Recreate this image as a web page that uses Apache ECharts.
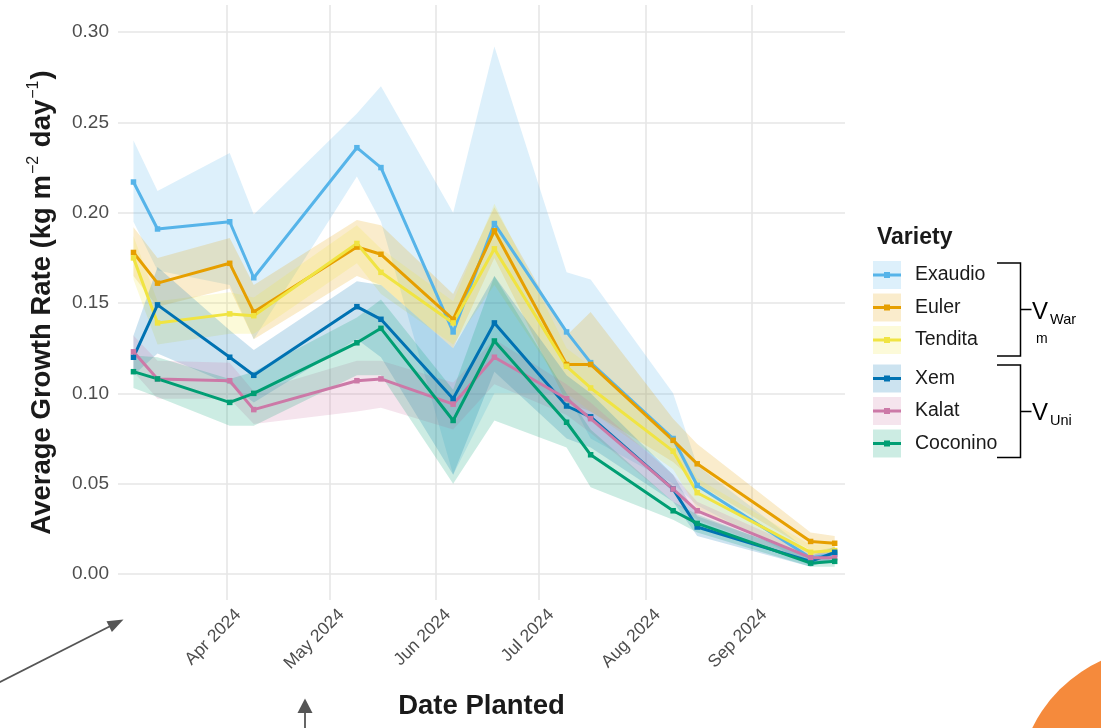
<!DOCTYPE html>
<html>
<head>
<meta charset="utf-8">
<script src="https://cdn.jsdelivr.net/npm/echarts@6/dist/echarts.min.js"></script>
<style>
  html, body { margin: 0; padding: 0; background: #ffffff; }
  #chart { width: 1101px; height: 728px; }
</style>
</head>
<body>
<div id="chart"></div>
<script>
// Planting dates (one sampling date per point)
const plantDates = ['2024-03-05', '2024-03-12', '2024-04-02', '2024-04-09', '2024-05-09', '2024-05-16',
  '2024-06-06', '2024-06-18', '2024-07-09', '2024-07-16', '2024-08-09', '2024-08-16', '2024-09-18', '2024-09-25'];

const varieties = ['Exaudio', 'Euler', 'Tendita', 'Xem', 'Kalat', 'Coconino'];
const varietyColors = ['#56B4E9', '#E69F00', '#F0E442', '#0072B2', '#CC79A7', '#009E73'];

// Mean growth rate (kg m-2 day-1) and its interval bounds
const exaudioMean = [0.217, 0.191, 0.195, 0.164, 0.236, 0.225, 0.134, 0.194, 0.134, 0.117, 0.075, 0.049, 0.009, 0.011];
const exaudioLow  = [0.195, 0.168, 0.160, 0.130, 0.220, 0.195, 0.055, 0.100, 0.100, 0.075, 0.050, 0.038, 0.005, 0.007];
const exaudioHigh = [0.240, 0.212, 0.233, 0.199, 0.255, 0.270, 0.200, 0.292, 0.167, 0.163, 0.100, 0.060, 0.012, 0.015];

const eulerMean = [0.178, 0.161, 0.172, 0.145, 0.181, 0.177, 0.141, 0.190, 0.116, 0.116, 0.074, 0.061, 0.018, 0.017];
const eulerLow  = [0.165, 0.148, 0.158, 0.130, 0.165, 0.160, 0.125, 0.175, 0.095, 0.090, 0.062, 0.050, 0.013, 0.012];
const eulerHigh = [0.192, 0.175, 0.186, 0.160, 0.196, 0.193, 0.155, 0.203, 0.132, 0.145, 0.086, 0.072, 0.023, 0.021];

const tenditaMean = [0.175, 0.139, 0.144, 0.143, 0.183, 0.167, 0.139, 0.180, 0.115, 0.103, 0.068, 0.045, 0.012, 0.013];
const tenditaLow  = [0.163, 0.127, 0.133, 0.133, 0.172, 0.155, 0.127, 0.160, 0.100, 0.090, 0.058, 0.036, 0.008, 0.009];
const tenditaHigh = [0.187, 0.151, 0.156, 0.153, 0.193, 0.180, 0.151, 0.205, 0.125, 0.115, 0.076, 0.053, 0.016, 0.017];

const xemMean = [0.120, 0.149, 0.120, 0.110, 0.148, 0.141, 0.097, 0.139, 0.093, 0.087, 0.047, 0.026, 0.007, 0.012];
const xemLow  = [0.110, 0.122, 0.105, 0.095, 0.130, 0.120, 0.055, 0.112, 0.075, 0.070, 0.040, 0.021, 0.004, 0.009];
const xemHigh = [0.132, 0.170, 0.135, 0.124, 0.162, 0.160, 0.125, 0.165, 0.110, 0.100, 0.055, 0.032, 0.010, 0.015];

const kalatMean = [0.123, 0.108, 0.107, 0.091, 0.107, 0.108, 0.094, 0.120, 0.097, 0.086, 0.047, 0.035, 0.009, 0.009];
const kalatLow  = [0.112, 0.097, 0.097, 0.083, 0.090, 0.092, 0.080, 0.105, 0.088, 0.078, 0.040, 0.030, 0.006, 0.006];
const kalatHigh = [0.132, 0.118, 0.117, 0.101, 0.118, 0.118, 0.106, 0.130, 0.105, 0.095, 0.055, 0.040, 0.012, 0.012];

const coconinoMean = [0.112, 0.108, 0.095, 0.100, 0.128, 0.136, 0.085, 0.129, 0.084, 0.066, 0.035, 0.028, 0.006, 0.007];
const coconinoLow  = [0.103, 0.098, 0.082, 0.082, 0.110, 0.110, 0.050, 0.085, 0.070, 0.048, 0.030, 0.023, 0.004, 0.004];
const coconinoHigh = [0.121, 0.120, 0.108, 0.112, 0.142, 0.152, 0.102, 0.165, 0.100, 0.080, 0.040, 0.033, 0.009, 0.010];

// Axis ticks
const monthTickDates = ['2024-04-01', '2024-05-01', '2024-06-01', '2024-07-01', '2024-08-01', '2024-09-01'];
const monthTickLabels = ['Apr 2024', 'May 2024', 'Jun 2024', 'Jul 2024', 'Aug 2024', 'Sep 2024'];
const rateTicks = [0, 0.05, 0.10, 0.15, 0.20, 0.25, 0.30];

const warmGroup = ['Exaudio', 'Euler', 'Tendita'];
const uniGroup = ['Xem', 'Kalat', 'Coconino'];

const means = [exaudioMean, eulerMean, tenditaMean, xemMean, kalatMean, coconinoMean];
const lows = [exaudioLow, eulerLow, tenditaLow, xemLow, kalatLow, coconinoLow];
const highs = [exaudioHigh, eulerHigh, tenditaHigh, xemHigh, kalatHigh, coconinoHigh];

const FONT = '"Liberation Sans", Arial, Helvetica, sans-serif';

function ts(s) {
  const p = s.split('-').map(Number);
  return Date.UTC(p[0], p[1] - 1, p[2]);
}
function rgba(hex, a) {
  const n = parseInt(hex.slice(1), 16);
  return 'rgba(' + (n >> 16) + ',' + ((n >> 8) & 255) + ',' + (n & 255) + ',' + a + ')';
}

const dateTimes = plantDates.map(ts);
const monthTicks = monthTickDates.map(ts);

// Shaded interval band: one polygon through the upper bounds and back along the lower bounds
function bandSeries(idx) {
  const low = lows[idx], high = highs[idx];
  return {
    type: 'custom',
    name: varieties[idx],
    silent: true,
    z: 1,
    animation: false,
    data: dateTimes.map((t, i) => [t, low[i], high[i]]),
    encode: { x: 0, y: [1, 2] },
    renderItem: function (params, api) {
      if (params.dataIndex !== 0) return null;
      const upper = dateTimes.map((t, i) => api.coord([t, high[i]]));
      const lower = dateTimes.map((t, i) => api.coord([t, low[i]])).reverse();
      return {
        type: 'polygon',
        shape: { points: upper.concat(lower) },
        style: { fill: rgba(varietyColors[idx], 0.2) },
        silent: true
      };
    }
  };
}

function lineSeries(idx) {
  const c = varietyColors[idx];
  return {
    type: 'line',
    name: varieties[idx],
    z: 3,
    animation: false,
    data: dateTimes.map((t, i) => [t, means[idx][i]]),
    symbol: 'rect',
    symbolSize: 5.5,
    showAllSymbol: true,
    lineStyle: { color: c, width: 3 },
    itemStyle: { color: c },
    emphasis: { disabled: true }
  };
}

const series = [];
varieties.forEach((v, i) => series.push(bandSeries(i)));
varieties.forEach((v, i) => series.push(lineSeries(i)));

// Legend: a pale square per variety with a line + point key drawn over it
const keyPath = 'path://M0,1.5H28V4.5H0Z M11,0H17V6H11Z';
function boxLegend(names, top) {
  return {
    orient: 'vertical', left: 873, top: top, padding: 0,
    itemWidth: 28, itemHeight: 28, itemGap: 4.5,
    selectedMode: false,
    textStyle: { fontFamily: FONT, fontSize: 19.5, color: '#1a1a1a', padding: [0, 0, 0, 9] },
    data: names.map(n => ({
      name: n, icon: 'rect',
      itemStyle: { color: rgba(varietyColors[varieties.indexOf(n)], 0.2), borderWidth: 0 }
    }))
  };
}
function keyLegend(names, top) {
  return {
    orient: 'vertical', left: 873, top: top + 11, padding: 0,
    itemWidth: 28, itemHeight: 6, itemGap: 26.5,
    selectedMode: false,
    formatter: () => '',
    textStyle: { fontSize: 1 },
    data: names.map(n => ({
      name: n, icon: keyPath,
      itemStyle: { color: varietyColors[varieties.indexOf(n)], borderWidth: 0 }
    }))
  };
}

const bracketStyle = { stroke: '#000000', lineWidth: 1.5, fill: null };
const arrowColor = '#555555';

const option = {
  backgroundColor: '#ffffff',
  animation: false,
  title: {
    text: 'Variety', left: 877, top: 226, padding: 0,
    textStyle: { fontFamily: FONT, fontSize: 23, fontWeight: 'bold', color: '#1a1a1a' }
  },
  legend: [
    boxLegend(warmGroup, 261),
    boxLegend(uniGroup, 364.5),
    keyLegend(warmGroup, 261),
    keyLegend(uniGroup, 364.5)
  ],
  grid: { left: 118, right: 256, top: 5, bottom: 128, containLabel: false, outerBoundsMode: 'none' },
  xAxis: {
    type: 'value',
    min: ts('2024-02-29') + 12 * 3600 * 1000,
    max: ts('2024-09-28'),
    axisLine: { show: false },
    axisTick: { show: false, customValues: monthTicks },
    axisLabel: {
      customValues: monthTicks,
      rotate: 45,
      hideOverlap: false,
      fontFamily: FONT, fontSize: 17.5, color: '#4d4d4d',
      verticalAlign: 'top', lineHeight: 34, margin: 0,
      formatter: function (v) {
        const i = monthTicks.indexOf(v);
        return i >= 0 ? monthTickLabels[i] : '';
      }
    },
    splitLine: { show: true, lineStyle: { color: '#e6e6e6', width: 1.6 } },
    name: 'Date Planted',
    nameLocation: 'middle',
    nameGap: 92,
    nameTextStyle: { fontFamily: FONT, fontSize: 27.5, fontWeight: 'bold', color: '#1a1a1a' }
  },
  yAxis: {
    type: 'value',
    min: -0.0144,
    max: 0.315,
    axisLine: { show: false },
    axisTick: { show: false, customValues: rateTicks },
    axisLabel: {
      customValues: rateTicks,
      fontFamily: FONT, fontSize: 19, color: '#4d4d4d', margin: 9,
      formatter: v => v.toFixed(2)
    },
    splitLine: { show: true, lineStyle: { color: '#e6e6e6', width: 1.6 } },
    name: 'Average Growth Rate (kg m{sup|\u22122} day{sup|\u22121})',
    nameLocation: 'middle',
    nameRotate: 90,
    nameGap: 60,
    nameTextStyle: {
      fontFamily: FONT, fontSize: 27.5, fontWeight: 'bold', color: '#1a1a1a', lineHeight: 32,
      rich: {
        sup: { fontFamily: FONT, fontSize: 16, fontWeight: 'normal', color: '#1a1a1a', verticalAlign: 'top', lineHeight: 32, padding: [0, 1, 12, 1] }
      }
    }
  },
  series: series,
  graphic: [
    // Group brackets beside the legend
    { type: 'polyline', shape: { points: [[997, 263], [1020.5, 263], [1020.5, 356], [997, 356]] }, style: bracketStyle, silent: true },
    { type: 'line', shape: { x1: 1020.5, y1: 309.5, x2: 1031.5, y2: 309.5 }, style: bracketStyle, silent: true },
    { type: 'polyline', shape: { points: [[997, 365], [1020.5, 365], [1020.5, 457.5], [997, 457.5]] }, style: bracketStyle, silent: true },
    { type: 'line', shape: { x1: 1020.5, y1: 411.5, x2: 1031.5, y2: 411.5 }, style: bracketStyle, silent: true },
    { type: 'text', x: 1032, y: 312, style: { text: 'V', font: '24px ' + FONT, fill: '#000', verticalAlign: 'middle' }, silent: true },
    { type: 'text', x: 1050, y: 320, style: { text: 'War', font: '14.5px ' + FONT, fill: '#000', verticalAlign: 'middle' }, silent: true },
    { type: 'text', x: 1036, y: 339, style: { text: 'm', font: '14px ' + FONT, fill: '#000', verticalAlign: 'middle' }, silent: true },
    { type: 'text', x: 1032, y: 413, style: { text: 'V', font: '24px ' + FONT, fill: '#000', verticalAlign: 'middle' }, silent: true },
    { type: 'text', x: 1050, y: 421, style: { text: 'Uni', font: '14.5px ' + FONT, fill: '#000', verticalAlign: 'middle' }, silent: true },
    // Pointer arrows
    { type: 'line', shape: { x1: -2, y1: 683, x2: 110, y2: 626.3 }, style: { stroke: arrowColor, lineWidth: 1.8 }, silent: true },
    { type: 'polygon', shape: { points: [[123.5, 619.5], [106.5, 621.3], [111.9, 632.1]] }, style: { fill: arrowColor }, silent: true },
    { type: 'line', shape: { x1: 305, y1: 712, x2: 305, y2: 730 }, style: { stroke: arrowColor, lineWidth: 1.8 }, silent: true },
    { type: 'polygon', shape: { points: [[305, 698.5], [297.5, 713], [312.5, 713]] }, style: { fill: arrowColor }, silent: true },
    // Decorative corner disc
    { type: 'circle', shape: { cx: 1160, cy: 790, r: 142 }, style: { fill: '#F58A3C' }, silent: true, z: -1 }
  ]
};

const chart = echarts.init(document.getElementById('chart'), null, { renderer: 'canvas' });
chart.setOption(option);
</script>
</body>
</html>
